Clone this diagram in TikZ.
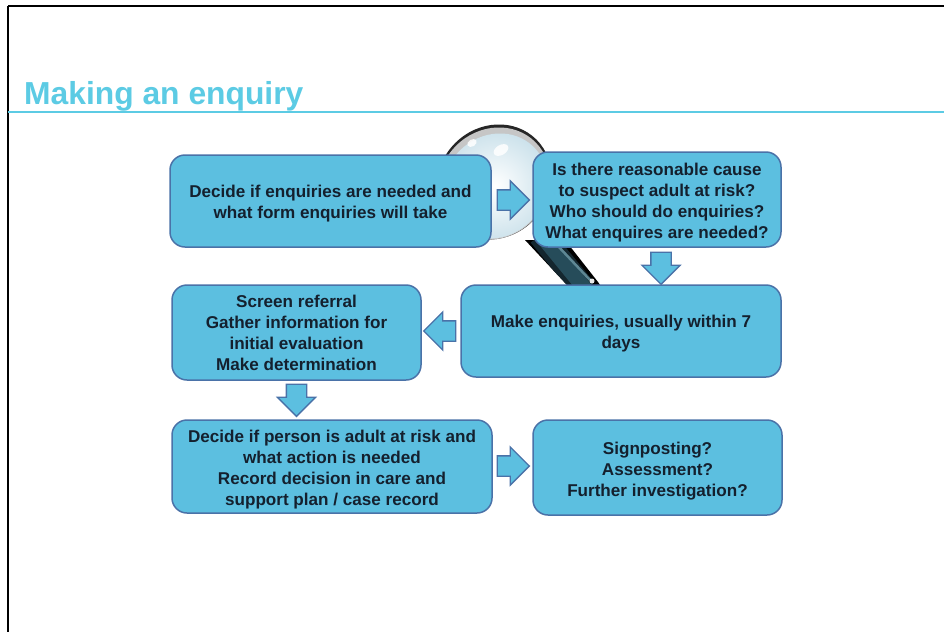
\documentclass[tikz,border=0pt]{standalone}
\usepackage{fontspec}
\setmainfont{Liberation Sans}
\usetikzlibrary{shapes.arrows,calc}
\definecolor{boxfill}{HTML}{5CBFE0}
\definecolor{boxedge}{HTML}{4A72A8}
\definecolor{titlecol}{HTML}{5CCBE4}
\definecolor{inktext}{HTML}{14202E}
\definecolor{lensedge}{HTML}{C9E0EA}
\definecolor{handlea}{HTML}{14262E}
\definecolor{handleb}{HTML}{264C5A}
\definecolor{handlec}{HTML}{5E8794}
\tikzset{
  flowbox/.style={draw=boxedge,line width=1.5pt,fill=boxfill,rounded corners=15pt,inner sep=0pt},
  flowtext/.style={inner sep=0pt,align=center,text=inktext,font=\fontsize{17.1}{20.9}\selectfont\bfseries},
  blockarrow/.style={single arrow,draw=boxedge,line width=1.3pt,fill=boxfill,inner xsep=0pt,inner ysep=9.5pt,
    minimum width=38pt,minimum height=32pt,single arrow head extend=9pt,single arrow head indent=0pt,anchor=tip},
}
\newcommand{\boxat}[7]{\node[flowbox,minimum width=#4pt-#2pt,minimum height=#5pt-#3pt,label={[flowtext,name=#1t,yshift=-#6pt]center:{#7}}] (#1) at ({(#2+#4)/2},{(#3+#5)/2}) {};}
\begin{document}
\begin{tikzpicture}[x=1pt,y=-1pt]
\useasboundingbox (0,0) rectangle (944,632);
\fill[white] (0,0) rectangle (944,632);
% frame
\draw[black,line width=2pt] (8,6) -- (944,6);
\draw[black,line width=2pt] (8,6) -- (8,632);
\draw[titlecol,line width=2pt] (8,112) -- (944,112);
\node[anchor=base west,inner sep=0pt,text=titlecol,font=\fontsize{31.8}{36}\selectfont\bfseries] (title) at (24,104) {Making an enquiry};
% magnifier
\begin{scope}
\clip (525,240) -- (565,240) -- (598,282) -- (600,285) -- (567,285) -- cycle;
\fill[black] (520,235) rectangle (605,290);
\draw[handlea,line width=24pt] (540,235) -- (585,290);
\draw[handleb,line width=15pt] (541,235) -- (586,290);
\draw[handlec,line width=2.5pt] (557,245) -- (590,280);
\fill[white,opacity=.9] (592,281) circle (2.5);
\end{scope}
\fill[black!85,rotate around={45:(494,182)}] (494,182) ellipse (60 and 55);
\fill[gray!45,rotate around={45:(494,183.5)}] (494,183.5) ellipse (58.5 and 53.5);
\shade[inner color=white,outer color=lensedge,rotate around={45:(495,186)}] (495,186) ellipse (55 and 50);
\fill[white,opacity=.85,rotate around={30:(472,143)}] (472,143) ellipse (5 and 3.5);
\fill[white,opacity=.85,rotate around={30:(501,150)}] (501,150) ellipse (8 and 5);
% boxes
\boxat{a}{170}{155}{491}{247}{3}{Decide if enquiries are needed and\\what form enquiries will take}
\boxat{b}{533}{152}{781}{247}{3}{Is there reasonable cause\\to suspect adult at risk?\\Who should do enquiries?\\What enquires are needed?}
\boxat{c}{461}{285}{781}{377}{3}{Make enquiries, usually within 7\\days}
\boxat{d}{172}{285}{421}{380}{0.5}{Screen referral\\Gather information for\\initial evaluation\\Make determination}
\boxat{e}{172}{420}{492}{513}{3}{Decide if person is adult at risk and\\what action is needed\\Record decision in care and\\support plan / case record}
\boxat{f}{533}{420}{782}{515}{3.5}{Signposting?\\Assessment?\\Further investigation?}
% block arrows
\node[blockarrow] (ab) at ($(b.west)+(-2,0.5)$) {};
\node[blockarrow,rotate=-90] (bc) at ($(c.north)+(40,1)$) {};
\node[blockarrow,rotate=180] (cd) at ($(d.east)+(1,-1.5)$) {};
\node[blockarrow,rotate=-90] (de) at ($(e.north)+(-35.5,-2)$) {};
\node[blockarrow] (ef) at ($(f.west)+(-2,-1.5)$) {};
\end{tikzpicture}
\end{document}
